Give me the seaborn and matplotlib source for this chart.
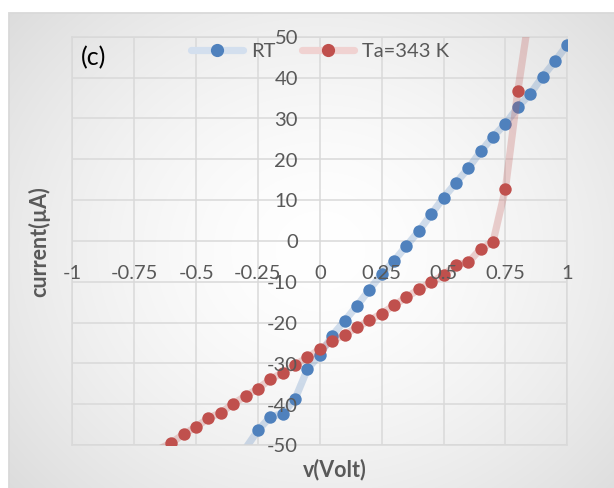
import numpy as np
import pandas as pd
import matplotlib
matplotlib.use('Agg')
import matplotlib.pyplot as plt
import seaborn as sns
from matplotlib.lines import Line2D

# ---- data ----
series_names = ['RT', 'Ta=343 K']
rt_v = [-0.3, -0.25, -0.2, -0.15, -0.1, -0.05, 0.0, 0.05, 0.1, 0.15, 0.2, 0.25, 0.3,
        0.35, 0.4, 0.45, 0.5, 0.55, 0.6, 0.65, 0.7, 0.75, 0.8, 0.85, 0.9, 0.95, 1.0]
rt_i = [-50.8, -46.4, -43.1, -42.3, -38.7, -31.4, -27.9, -23.2, -19.6, -15.9, -12.0, -8.1, -4.9,
        -1.2, 2.4, 6.5, 10.6, 14.2, 17.8, 21.9, 25.5, 28.7, 32.7, 36.0, 40.2, 44.0, 48.0]
ta_v = [-0.65, -0.6, -0.55, -0.5, -0.45, -0.4, -0.35, -0.3, -0.25, -0.2, -0.15, -0.1, -0.05,
        0.0, 0.05, 0.1, 0.15, 0.2, 0.25, 0.3, 0.35, 0.4, 0.45, 0.5, 0.55, 0.6, 0.65, 0.7,
        0.75, 0.8, 0.85]
ta_i = [-51.0, -49.5, -47.3, -45.6, -43.4, -42.1, -39.9, -38.0, -36.2, -33.9, -32.3, -30.4, -28.5,
        -26.6, -24.5, -23.0, -21.2, -19.5, -17.8, -15.8, -13.8, -11.9, -10.1, -8.4, -5.8, -5.3,
        -1.95, -0.24, 12.8, 36.7, 57.0]
x_ticks = [-1, -0.75, -0.5, -0.25, 0, 0.25, 0.5, 0.75, 1]
x_tick_labels = ['-1', '-0.75', '-0.5', '-0.25', '0', '0.25', '0.5', '0.75', '1']
y_ticks = [-50, -40, -30, -20, -10, 0, 10, 20, 30, 40, 50]
y_tick_labels = ['-50', '-40', '-30', '-20', '-10', '0', '10', '20', '30', '40', '50']
panel_label = '(c)'
x_title = 'v(Volt)'
y_title = 'current(\u00b5A)'

sns.set_style('white')
plt.rcParams['font.family'] = ['Lato', 'DejaVu Sans']

W, H = 614, 488
fig = plt.figure(figsize=(W / 100, H / 100), dpi=100)
fig.patch.set_facecolor('white')

# ---- chart-area background: radial gray gradient with light border ----
bg = fig.add_axes([0, 0, 1, 1], zorder=0)
bg.set_xlim(0, W)
bg.set_ylim(H, 0)
bg.axis('off')
left_px, top_px = 8.6, 12.7
yy, xx = np.mgrid[0:H, 0:W]
r = np.hypot((xx - 320) / 340.0, (yy - 250) / 300.0)
shade = 1.0 - 0.10 * np.clip(r, 0, 1.2) ** 1.6
img = np.dstack([shade, shade, shade])
mask = (xx < left_px) | (yy < top_px)
img[mask] = 1.0
bg.imshow(img, extent=(0, W, H, 0), interpolation='bilinear', aspect='auto')
bg.plot([left_px, left_px, W + 5], [H + 5, top_px, top_px], color='#D9D9D9', lw=1.3,
        solid_joinstyle='miter')

# ---- plot area ----
ax = fig.add_axes([72.4 / W, 1 - 445.0 / H, (567.3 - 72.4) / W, (445.0 - 36.7) / H], zorder=1)
ax.set_facecolor('none')
ax.set_xlim(-1, 1)
ax.set_ylim(-50, 50)
ax.set_xticks(x_ticks)
ax.set_yticks(y_ticks)
ax.tick_params(length=0, labelbottom=False, labelleft=False)
ax.grid(True, color='#D9D9D9', lw=1.1)
for s in ax.spines.values():
    s.set_color('#D9D9D9')
    s.set_linewidth(1.1)

blue, red = '#4F81BD', '#C0504D'
blue_l, red_l = '#D3DFEE', '#F0D2D1'
df_rt = pd.DataFrame({'v': rt_v, 'i': rt_i})
df_ta = pd.DataFrame({'v': ta_v, 'i': ta_i})

sns.lineplot(data=df_rt, x='v', y='i', ax=ax, color=blue, alpha=0.25, lw=5.2,
             solid_capstyle='round', zorder=2, legend=False)
sns.scatterplot(data=df_rt[df_rt.i.between(-50, 50)], x='v', y='i', ax=ax, color=blue,
                s=80, edgecolor=blue, linewidth=0, zorder=3, legend=False)
sns.lineplot(data=df_ta, x='v', y='i', ax=ax, color=red, alpha=0.25, lw=5.2,
             solid_capstyle='round', zorder=4, legend=False)
sns.scatterplot(data=df_ta[df_ta.i.between(-50, 50)], x='v', y='i', ax=ax, color=red,
                s=80, edgecolor=red, linewidth=0, zorder=5, legend=False)
ax.set_xlabel('')
ax.set_ylabel('')

tick_color = '#595959'
fs_tick = 14.5
for v, lab in zip(x_ticks, x_tick_labels):
    ax.annotate(lab, xy=(v, 0), xycoords='data', xytext=(0, -27.8), textcoords='offset points',
                ha='center', va='baseline', fontsize=fs_tick, color=tick_color,
                annotation_clip=False, zorder=6)
for v, lab in zip(y_ticks, y_tick_labels):
    ax.annotate(lab, xy=(0, v), xycoords='data', xytext=(-15.8, -5.3), textcoords='offset points',
                ha='right', va='baseline', fontsize=fs_tick, color=tick_color,
                annotation_clip=False, zorder=6)

# ---- titles ----
fig.text(39 / W, 1 - 241.5 / H, y_title, rotation=90, ha='center', va='center',
         fontsize=15.5, fontweight='bold', color=tick_color)
fig.text(335 / W, 1 - 470 / H, x_title, ha='center', va='center',
         fontsize=15.5, fontweight='bold', color=tick_color)
fig.text(81.0 / W, 1 - 57.5 / H, panel_label, ha='left', va='center', fontsize=18,
         color='black', zorder=10)

# ---- legend ----
handles = [
    Line2D([], [], color=blue_l, lw=5.2, marker='o', markersize=9.5,
           markerfacecolor=blue, markeredgecolor=blue, markeredgewidth=0),
    Line2D([], [], color=red_l, lw=5.2, marker='o', markersize=9.5,
           markerfacecolor=red, markeredgecolor=red, markeredgewidth=0),
]
leg = fig.legend(handles, series_names, loc='center', bbox_to_anchor=(320 / W, 1 - 51.7 / H),
                 ncol=2, frameon=False, fontsize=fs_tick, labelcolor=tick_color,
                 handlelength=2.6, handletextpad=0.4, columnspacing=1.3, borderaxespad=0)
leg.set_zorder(10)

fig.savefig('out.png', dpi=100)
